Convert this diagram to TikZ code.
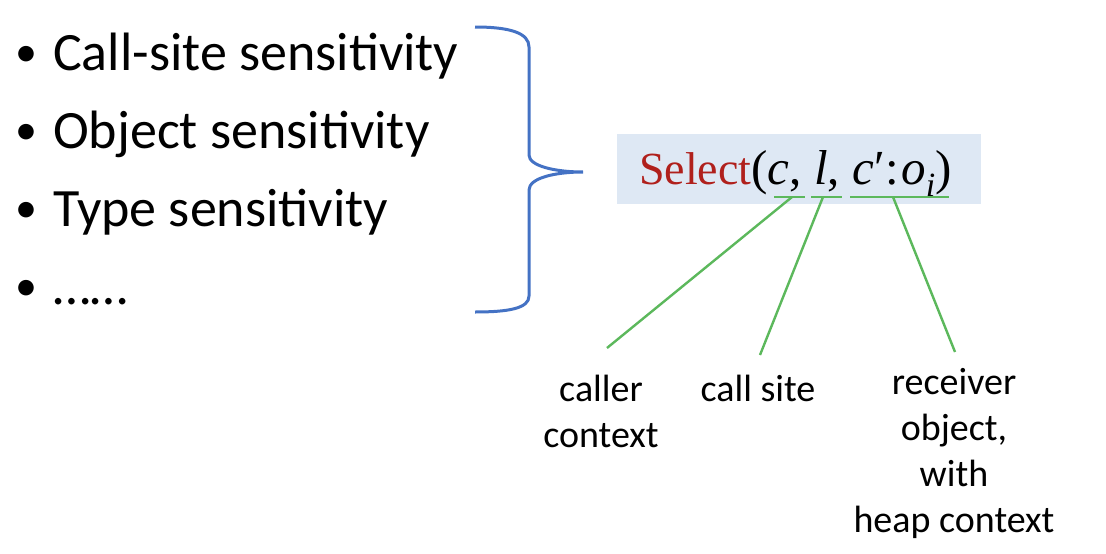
\documentclass[tikz,border=0pt]{standalone}
\usepackage{fontspec}
\setmainfont{Carlito}
\newfontfamily\selfont{Liberation Serif}
\definecolor{bracecol}{HTML}{4472C4}
\definecolor{boxfill}{HTML}{DEE8F4}
\definecolor{selred}{HTML}{B0201C}
\definecolor{linegreen}{HTML}{5CB85C}
\begin{document}
\begin{tikzpicture}[x=1pt,y=-1pt,
  item/.style={anchor=base west,inner sep=0pt,font=\fontsize{54}{60}\selectfont},
  bul/.style={anchor=base,inner sep=0pt,font=\fontsize{44}{48}\selectfont},
  lbl/.style={anchor=north,inner sep=0pt,align=center,font=\fontsize{38}{46}\selectfont},
  glink/.style={draw=linegreen,line width=2.4pt},
  bracestyle/.style={draw=bracecol,line width=3pt}]
\useasboundingbox (0,0) rectangle (1106,554);
% bullets
\node[bul] (b1) at (26,66) {•};
\node[bul] (b2) at (26,144) {•};
\node[bul] (b3) at (26,222) {•};
\node[bul] (b4) at (26,300) {•};
\node[item] (t1) at (53,70) {Call-site sensitivity};
\node[item] (t2) at (53,148) {Object sensitivity};
\node[item] (t3) at (53,226) {Type sensitivity};
\node[item] (t4) at (53,304) {……};
% brace
\draw[bracestyle] (475,27) .. controls (510,27) and (529,33) .. (529,47)
  -- (529,155) .. controls (529,166) and (555,172) .. (583,172)
  .. controls (555,172) and (529,178) .. (529,190)
  -- (529,296) .. controls (529,308) and (510,312) .. (475,312);
% select box
\node[fill=boxfill,minimum width=364pt,minimum height=70pt,inner sep=0pt] (box) at (799,169) {};
\node[anchor=base west,inner sep=0pt,font=\selfont\fontsize{46}{50}\selectfont] (sel) at (639,184)
  {\textcolor{selred}{Select}{\fontsize{49}{54}\selectfont(\textit{c}, \textit{l}, \textit{c}′\kern1pt:\kern2pt\textit{o}\raisebox{-0.25em}{\fontsize{34}{36}\selectfont\textit{i}})}};
% underlines
\coordinate (u1a) at (774,197); \coordinate (u1b) at (805,197);
\coordinate (u2a) at (811,197); \coordinate (u2b) at (842,197);
\coordinate (u3a) at (850,197); \coordinate (u3b) at (949,197);
\draw[glink] (u1a) -- (u1b);
\draw[glink] (u2a) -- (u2b);
\draw[glink] (u3a) -- (u3b);
\coordinate (p1) at (792,197);
\coordinate (p2) at (823,197);
\coordinate (p3) at (893,197);
% labels
\node[lbl] (l1) at (601,375) {caller\\context};
\node[lbl] (l2) at (758,375) {call site};
\node[lbl] (l3) at (954,368) {receiver\\object,\\with\\heap context};
\coordinate (e1) at (607,348);
\coordinate (e2) at (760,355);
\coordinate (e3) at (955,352);
\draw[glink] (p1) -- (e1);
\draw[glink] (p2) -- (e2);
\draw[glink] (p3) -- (e3);
\end{tikzpicture}
\end{document}
